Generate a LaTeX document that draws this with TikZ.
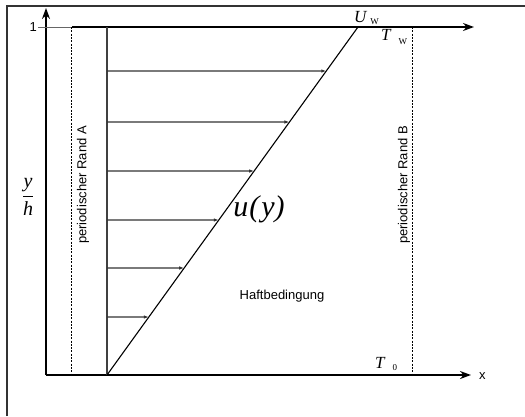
\documentclass[tikz,border=0pt]{standalone}
\usepackage{fontspec}
\setmainfont{Liberation Serif}
\setsansfont{Liberation Sans}
\usetikzlibrary{arrows.meta,calc}
\begin{document}
\begin{tikzpicture}[x=1pt,y=-1pt,
  axis/.style={line width=1.8pt, -{Stealth[length=11pt,width=8pt]}},
  vel/.style={draw=black!80, line width=1.2pt, -{Latex[length=5pt,width=3.5pt]}},
  bnd/.style={dash pattern=on 2pt off 1.3pt, line width=0.8pt},
  lab/.style={font=\fontsize{13}{15}\selectfont\sffamily, inner sep=0pt},
  mlab/.style={font=\fontsize{17}{19}\selectfont\itshape, inner sep=0pt}]
\useasboundingbox (0,0) rectangle (525,416);
% frame
\coordinate (fbl) at (7,416);
\coordinate (ftl) at (7,6);
\coordinate (ftr) at (525,6);
\draw[black!80, line width=1.1pt] (fbl) -- (ftl) -- (ftr);
% axes
\coordinate (O) at (46,375);
\coordinate (ytip) at (46,8);
\coordinate (xtip) at (471,375);
\draw[axis] (O) -- (ytip);
\draw[axis] (O) -- (xtip);
\node[lab, anchor=west] (xl) at (479,376) {x};
\node[font=\fontsize{20}{22}\selectfont, inner sep=0pt] (yh) at (28,197) {$\displaystyle\frac{\textit{y}}{\textit{h}}$};
% tick 1
\coordinate (t1a) at (38,27);
\coordinate (t1b) at (72,27);
\draw[black!60, line width=1pt] (t1a) -- (t1b);
\node[lab, anchor=east] (one) at (37,27) {1};
% top wall
\coordinate (wA) at (72,27);
\coordinate (wtip) at (474,27);
\draw[axis] (wA) -- (wtip);
% periodic boundaries
\coordinate (Atop) at (71,27);
\coordinate (Abot) at (71,375);
\coordinate (Btop) at (412,27);
\coordinate (Bbot) at (412,375);
\draw[bnd] (Atop) -- (Abot);
\draw[bnd] (Btop) -- (Bbot);
\node[lab, rotate=90] (rA) at (83,185) {periodischer Rand A};
\node[lab, rotate=90] (rB) at (404,185) {periodischer Rand B};
% wall line and profile
\coordinate (P0) at (107,375);
\coordinate (P1) at (107,27);
\coordinate (Ptop) at (358,27);
\draw[black!75, line width=1.4pt] (P0) -- (P1);
\draw[line width=1.1pt] (P0) -- (Ptop);
\foreach \yy [count=\i] in {71,122,171,220,268,317}{
  \coordinate (s\i) at (107,\yy);
  \coordinate (e\i) at ($(P0)!{(375-\yy)/348}!(Ptop)$);
  \draw[vel] (s\i) -- (e\i);
}
% labels
\node[font=\fontsize{30}{32}\selectfont\itshape, inner sep=0pt] (uy) at (259,209) {u\kern1pt(\kern2pt y)};
\node[lab] (haft) at (282,296) {Haftbedingung};
\node[mlab, anchor=base west] (UW) at (354,22) {U\hspace{4pt}\raisebox{-2pt}{\fontsize{9}{10}\selectfont\upshape W}};
\node[mlab, anchor=base west] (TW) at (381,40) {T\hspace{8pt}\raisebox{-4pt}{\fontsize{9}{10}\selectfont\upshape W}};
\node[mlab, anchor=base west] (T0) at (375,368) {T\hspace{8pt}\raisebox{-2pt}{\fontsize{9}{10}\selectfont\upshape 0}};
\end{tikzpicture}
\end{document}
